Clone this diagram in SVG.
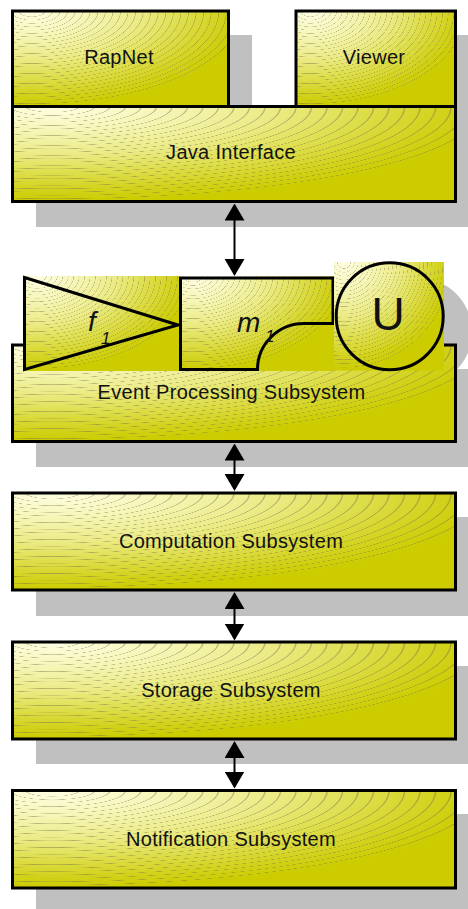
<svg xmlns="http://www.w3.org/2000/svg" width="468" height="909" viewBox="0 0 468 909">
<defs>
<style>
.shadow{fill:#c0c0c0}
.bg{fill:url(#fill)}
.ring{fill:url(#rings)}
.box{fill:url(#rings);stroke:#000;stroke-width:3}
.edge{fill:none;stroke:#000;stroke-width:3;stroke-linejoin:miter}
.label{font-family:"Liberation Sans",Arial,sans-serif;font-size:20px;letter-spacing:0.3px;fill:#111;text-anchor:middle}
.sym{font-family:"Liberation Sans",Arial,sans-serif;font-style:italic;fill:#111}
.conn{stroke:#000;stroke-width:2;marker-start:url(#head);marker-end:url(#head)}
.t{stop-color:#77704a;stop-opacity:0}
.l{stop-color:#77704a;stop-opacity:.5}
</style>
<radialGradient id="fill" cx="0.09" cy="0" r="1" fx="0.09" fy="0">
<stop offset="0" stop-color="#fefee4"/>
<stop offset="0.25" stop-color="#f6f6b8"/>
<stop offset="0.5" stop-color="#ebeb86"/>
<stop offset="0.7" stop-color="#dede4c"/>
<stop offset="0.88" stop-color="#d2d21c"/>
<stop offset="1" stop-color="#cccc00"/>
</radialGradient>
<!-- thin contour lines laid over the fill -->
<radialGradient id="rings" cx="0.09" cy="0" r="1" fx="0.09" fy="0">
<stop offset="0.057" class="t"/><stop offset="0.06" class="l"/><stop offset="0.063" class="t"/>
<stop offset="0.092" class="t"/><stop offset="0.095" class="l"/><stop offset="0.098" class="t"/>
<stop offset="0.127" class="t"/><stop offset="0.13" class="l"/><stop offset="0.133" class="t"/>
<stop offset="0.162" class="t"/><stop offset="0.165" class="l"/><stop offset="0.168" class="t"/>
<stop offset="0.197" class="t"/><stop offset="0.2" class="l"/><stop offset="0.203" class="t"/>
<stop offset="0.232" class="t"/><stop offset="0.235" class="l"/><stop offset="0.238" class="t"/>
<stop offset="0.267" class="t"/><stop offset="0.27" class="l"/><stop offset="0.273" class="t"/>
<stop offset="0.302" class="t"/><stop offset="0.305" class="l"/><stop offset="0.308" class="t"/>
<stop offset="0.337" class="t"/><stop offset="0.34" class="l"/><stop offset="0.343" class="t"/>
<stop offset="0.372" class="t"/><stop offset="0.375" class="l"/><stop offset="0.378" class="t"/>
<stop offset="0.407" class="t"/><stop offset="0.41" class="l"/><stop offset="0.413" class="t"/>
<stop offset="0.442" class="t"/><stop offset="0.445" class="l"/><stop offset="0.448" class="t"/>
<stop offset="0.477" class="t"/><stop offset="0.48" class="l"/><stop offset="0.483" class="t"/>
<stop offset="0.512" class="t"/><stop offset="0.515" class="l"/><stop offset="0.518" class="t"/>
<stop offset="0.547" class="t"/><stop offset="0.55" class="l"/><stop offset="0.553" class="t"/>
<stop offset="0.582" class="t"/><stop offset="0.585" class="l"/><stop offset="0.588" class="t"/>
<stop offset="0.617" class="t"/><stop offset="0.62" class="l"/><stop offset="0.623" class="t"/>
<stop offset="0.652" class="t"/><stop offset="0.655" class="l"/><stop offset="0.658" class="t"/>
<stop offset="0.687" class="t"/><stop offset="0.69" class="l"/><stop offset="0.693" class="t"/>
<stop offset="0.722" class="t"/><stop offset="0.725" class="l"/><stop offset="0.728" class="t"/>
<stop offset="0.757" class="t"/><stop offset="0.76" class="l"/><stop offset="0.763" class="t"/>
<stop offset="0.792" class="t"/><stop offset="0.795" class="l"/><stop offset="0.798" class="t"/>
<stop offset="0.827" class="t"/><stop offset="0.83" class="l"/><stop offset="0.833" class="t"/>
<stop offset="0.862" class="t"/><stop offset="0.865" class="l"/><stop offset="0.868" class="t"/>
<stop offset="0.897" class="t"/><stop offset="0.9" class="l"/><stop offset="0.903" class="t"/>
<stop offset="0.932" class="t"/><stop offset="0.935" class="l"/><stop offset="0.938" class="t"/>
<stop offset="0.967" class="t"/><stop offset="0.97" class="l"/><stop offset="0.973" class="t"/>
</radialGradient>
<marker id="head" viewBox="0 0 17 20" refX="15" refY="10" markerWidth="17" markerHeight="20" markerUnits="userSpaceOnUse" orient="auto-start-reverse">
<path d="M0,0 L17,10 L0,20 Z" fill="#000"/>
</marker>
</defs>

<!-- drop shadows -->
<g id="shadows">
<rect class="shadow" x="36" y="35" width="216" height="96"/>
<rect class="shadow" x="320" y="35" width="160" height="96"/>
<rect class="shadow" x="36" y="130" width="440" height="97"/>
<circle class="shadow" cx="418" cy="332" r="54"/>
<rect class="shadow" x="36" y="369" width="440" height="98"/>
<rect class="shadow" x="36" y="517" width="440" height="99"/>
<rect class="shadow" x="36" y="666" width="440" height="98"/>
<rect class="shadow" x="36" y="814" width="440" height="100"/>
</g>

<g id="java-interface">
<rect class="bg" x="12.5" y="106.5" width="443" height="95"/>
<rect class="box" x="12.5" y="106.5" width="443" height="95"/>
<text class="label" x="231" y="158.5">Java Interface</text>
</g>

<g id="rapnet">
<rect class="bg" x="12.5" y="11" width="216" height="95.5"/>
<rect class="box" x="12.5" y="11" width="216" height="95.5"/>
<text class="label" x="119" y="63.5">RapNet</text>
</g>

<g id="viewer">
<rect class="bg" x="296" y="11" width="159.5" height="95.5"/>
<rect class="box" x="296" y="11" width="159.5" height="95.5"/>
<text class="label" x="374" y="63.5">Viewer</text>
</g>

<g id="event-processing">
<rect class="bg" x="12.5" y="345" width="443" height="96.5"/>
<rect class="box" x="12.5" y="345" width="443" height="96.5"/>
<text class="label" x="231.5" y="398.5">Event Processing Subsystem</text>
</g>

<g id="f1">
<rect class="bg" x="23" y="276" width="156" height="95"/>
<rect class="ring" x="23" y="276" width="156" height="95"/>
<path class="edge" d="M24.5,277.5 L178,325 L24.5,369.5 Z"/>
<text class="sym" x="88" y="331" font-size="28">f</text>
<text class="sym" x="101" y="344" font-size="17">1</text>
</g>

<g id="m1">
<rect class="bg" x="179" y="276.5" width="155" height="94.5"/>
<rect class="ring" x="179" y="276.5" width="155" height="94.5"/>
<path class="edge" d="M180.5,278 H333 V323.5 H304 A46.5,46 0 0 0 257.5,369.5 H180.5 Z"/>
<text class="sym" x="237" y="332" font-size="28">m</text>
<text class="sym" x="265" y="342" font-size="17">1</text>
</g>

<g id="u">
<rect class="bg" x="334" y="262" width="110" height="108.5"/>
<rect class="ring" x="334" y="262" width="110" height="108.5"/>
<circle class="edge" cx="389.7" cy="316.3" r="53.5"/>
<text x="388" y="330" font-family="'Liberation Sans',Arial,sans-serif" font-size="46" fill="#111" text-anchor="middle">U</text>
</g>

<g id="computation">
<rect class="bg" x="12.5" y="493" width="443" height="97"/>
<rect class="box" x="12.5" y="493" width="443" height="97"/>
<text class="label" x="231" y="548">Computation Subsystem</text>
</g>

<g id="storage">
<rect class="bg" x="12.5" y="642" width="443" height="97"/>
<rect class="box" x="12.5" y="642" width="443" height="97"/>
<text class="label" x="231" y="697">Storage Subsystem</text>
</g>

<g id="notification">
<rect class="bg" x="12.5" y="790.5" width="443" height="97.5"/>
<rect class="box" x="12.5" y="790.5" width="443" height="97.5"/>
<text class="label" x="231" y="845.5">Notification Subsystem</text>
</g>

<!-- two-way links between layers -->
<g id="connectors">
<line class="conn" x1="234.5" y1="205.5" x2="234.5" y2="274"/>
<line class="conn" x1="234.5" y1="445.5" x2="234.5" y2="489"/>
<line class="conn" x1="234.5" y1="594" x2="234.5" y2="638.5"/>
<line class="conn" x1="234.5" y1="743" x2="234.5" y2="786.5"/>
</g>
</svg>
